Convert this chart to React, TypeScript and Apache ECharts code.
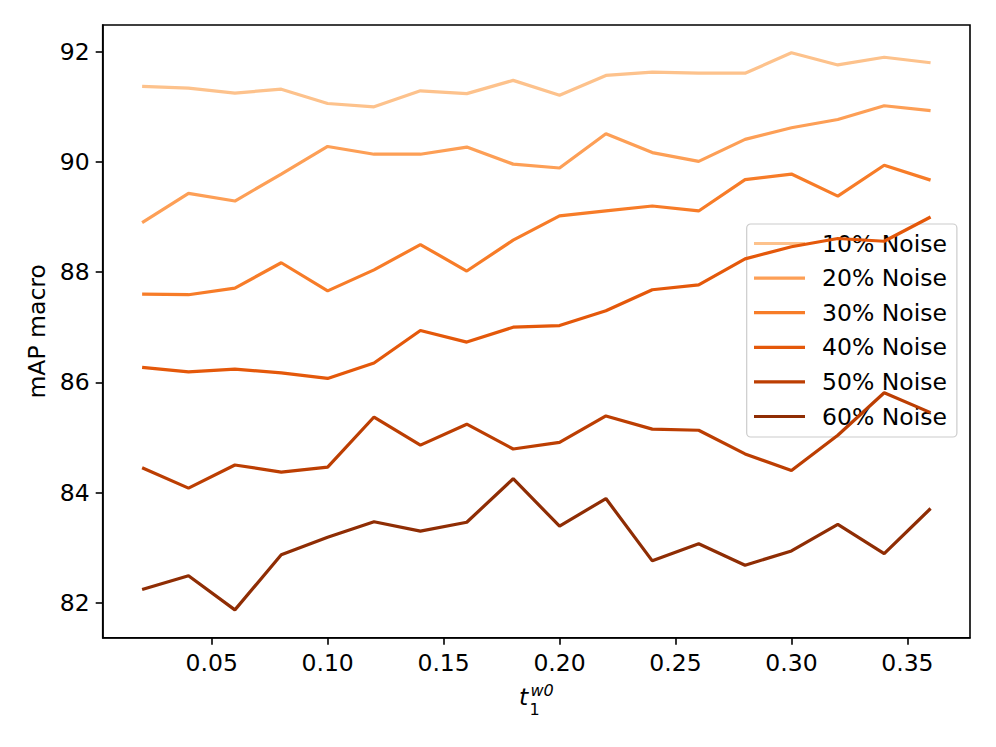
import React, { useEffect, useRef } from "react";
import * as echarts from "echarts";

const xValues = [0.02, 0.04, 0.06, 0.08, 0.1, 0.12, 0.14, 0.16, 0.18, 0.2, 0.22, 0.24, 0.26, 0.28, 0.3, 0.32, 0.34, 0.36];
const xTicks = [0.05, 0.1, 0.15, 0.2, 0.25, 0.3, 0.35];
const yTicks = [82, 84, 86, 88, 90, 92];

const noise10 = [91.37, 91.34, 91.25, 91.32, 91.06, 91.0, 91.29, 91.24, 91.48, 91.21, 91.57, 91.63, 91.61, 91.61, 91.98, 91.76, 91.9, 91.8];
const noise20 = [88.9, 89.43, 89.29, 89.78, 90.28, 90.14, 90.14, 90.27, 89.96, 89.89, 90.51, 90.17, 90.01, 90.41, 90.62, 90.77, 91.02, 90.93];
const noise30 = [87.6, 87.59, 87.71, 88.17, 87.66, 88.04, 88.5, 88.02, 88.58, 89.02, 89.11, 89.2, 89.11, 89.68, 89.78, 89.38, 89.94, 89.67];
const noise40 = [86.27, 86.19, 86.24, 86.17, 86.07, 86.35, 86.94, 86.73, 87.0, 87.03, 87.3, 87.68, 87.77, 88.24, 88.46, 88.61, 88.56, 89.0];
const noise50 = [84.45, 84.08, 84.5, 84.37, 84.46, 85.37, 84.86, 85.24, 84.79, 84.91, 85.39, 85.15, 85.13, 84.7, 84.4, 85.04, 85.81, 85.45];
const noise60 = [82.24, 82.49, 81.87, 82.87, 83.19, 83.47, 83.3, 83.46, 84.25, 83.39, 83.89, 82.76, 83.07, 82.68, 82.94, 83.42, 82.89, 83.71];

const seriesNames = ["10% Noise", "20% Noise", "30% Noise", "40% Noise", "50% Noise", "60% Noise"];
const seriesValues = [noise10, noise20, noise30, noise40, noise50, noise60];
const seriesColors = ["#fdc28c", "#fd9f56", "#f77c28", "#e4580a", "#bc3e02", "#8f2d04"];

const FONT = "DejaVu Sans";
const FS = 23.5;
const SFS = 16;

export default function App() {
  const ref = useRef<HTMLDivElement>(null);
  useEffect(() => {
    if (!ref.current) return;
    const chart = echarts.init(ref.current, null, { renderer: "svg" });
    const option = {
      animation: false,
      backgroundColor: "#ffffff",
      textStyle: { fontFamily: FONT },
      grid: {
        left: 102.7,
        right: 26,
        top: 25,
        bottom: 109.3,
        show: true,
        borderColor: "#000",
        borderWidth: 1.6,
        backgroundColor: "transparent",
      },
      legend: {
        orient: "vertical",
        left: 746.7,
        top: 224,
        data: seriesNames.map((n) => ({ name: n, icon: "rect" })),
        itemWidth: 51,
        itemHeight: 3.2,
        itemGap: 10.6,
        padding: [7.5, 10, 8.5, 7.3],
        backgroundColor: "rgba(255,255,255,0.8)",
        borderColor: "#cccccc",
        borderWidth: 1.2,
        borderRadius: 4,
        textStyle: { fontFamily: FONT, fontSize: FS, color: "#000", lineHeight: 22, padding: [0, 0, 0, 12] },
      },
      xAxis: {
        type: "value",
        min: 0.003,
        max: 0.377,
        splitLine: { show: false },
        axisLine: { show: true, lineStyle: { color: "#000", width: 1.6 } },
        axisTick: {
          show: true,
          customValues: xTicks,
          length: 7,
          lineStyle: { color: "#000", width: 1.6 },
        },
        axisLabel: {
          customValues: xTicks,
          formatter: (v: number) => v.toFixed(2),
          fontFamily: FONT,
          fontSize: FS,
          color: "#000",
          margin: 13,
        },
      },
      yAxis: {
        type: "value",
        min: 81.365,
        max: 92.485,
        name: "mAP macro",
        nameLocation: "middle",
        nameRotate: 90,
        nameGap: 52,
        nameTextStyle: { fontFamily: FONT, fontSize: FS, color: "#000" },
        splitLine: { show: false },
        axisLine: { show: true, lineStyle: { color: "#000", width: 1.6 } },
        axisTick: {
          show: true,
          customValues: yTicks,
          length: 7,
          lineStyle: { color: "#000", width: 1.6 },
        },
        axisLabel: {
          customValues: yTicks,
          fontFamily: FONT,
          fontSize: FS,
          color: "#000",
          margin: 13,
        },
      },
      graphic: [
        {
          type: "text",
          x: 519,
          y: 697,
          style: { text: "t", font: `italic ${FS}px '${FONT}'`, fill: "#000", verticalAlign: "middle", align: "left" },
        },
        {
          type: "text",
          x: 529.5,
          y: 709.5,
          style: { text: "1", font: `${SFS}px '${FONT}'`, fill: "#000", verticalAlign: "middle", align: "left" },
        },
        {
          type: "text",
          x: 530.5,
          y: 690.5,
          style: { text: "w0", font: `italic ${SFS}px '${FONT}'`, fill: "#000", verticalAlign: "middle", align: "left" },
        },
      ],
      series: seriesNames.map((name, k) => ({
        name,
        type: "line",
        data: xValues.map((x, i) => [x, seriesValues[k][i]]),
        showSymbol: false,
        symbol: "none",
        color: seriesColors[k],
        lineStyle: { color: seriesColors[k], width: 3.2 },
        z: 2 + k,
      })),
    };
    chart.setOption(option as any);
    return () => chart.dispose();
  }, []);
  return <div ref={ref} style={{ position: "absolute", left: 0, top: 0, width: 996, height: 747 }} />;
}
